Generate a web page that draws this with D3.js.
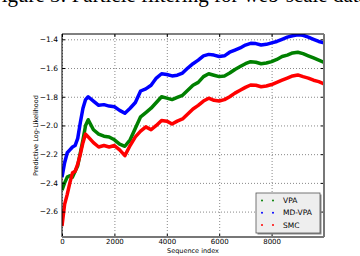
<!DOCTYPE html>
<html>
<head>
<meta charset="utf-8">
<script src="https://cdn.jsdelivr.net/npm/d3@7"></script>
<style>
  body { margin: 0; background: #fff; }
  svg { display: block; }
  .tick text { font-family: "DejaVu Sans", sans-serif; }
</style>
</head>
<body>
<div id="chart"></div>
<script>
// Sequence index positions (shared by all series)
const seqIndex = [0, 100, 200, 300, 400, 500, 600, 700, 800, 900, 1000, 1200, 1400, 1600, 1800,
    2000, 2200, 2400, 2600, 2800, 3000, 3200, 3400, 3600, 3800, 4000, 4200, 4400, 4600, 4800,
    5000, 5200, 5400, 5600, 5800, 6000, 6200, 6400, 6600, 6800, 7000, 7200, 7400, 7600, 7800,
    8000, 8200, 8400, 8600, 8800, 9000, 9200, 9400, 9600, 9800, 10000];

const vpa = [-2.45, -2.40, -2.36, -2.35, -2.36, -2.32, -2.28, -2.19, -2.10, -2.00, -1.96, -2.03, -2.06, -2.075, -2.08,
    -2.10, -2.13, -2.145, -2.10, -2.02, -1.94, -1.91, -1.88, -1.84, -1.80, -1.81, -1.82, -1.805, -1.79, -1.755,
    -1.72, -1.70, -1.66, -1.64, -1.65, -1.66, -1.655, -1.635, -1.61, -1.59, -1.57, -1.556, -1.56, -1.57, -1.565,
    -1.555, -1.54, -1.52, -1.51, -1.495, -1.49, -1.50, -1.515, -1.53, -1.545, -1.56];

const mdVpa = [-2.36, -2.26, -2.19, -2.17, -2.15, -2.14, -2.09, -1.98, -1.88, -1.82, -1.80, -1.83, -1.86, -1.855, -1.865,
    -1.87, -1.895, -1.915, -1.88, -1.84, -1.76, -1.745, -1.72, -1.67, -1.64, -1.645, -1.655, -1.65, -1.635, -1.60,
    -1.57, -1.545, -1.515, -1.505, -1.51, -1.52, -1.515, -1.49, -1.475, -1.46, -1.44, -1.428, -1.43, -1.44, -1.435,
    -1.425, -1.415, -1.40, -1.385, -1.375, -1.368, -1.372, -1.385, -1.40, -1.415, -1.425];

const smc = [-2.70, -2.55, -2.48, -2.40, -2.33, -2.32, -2.27, -2.20, -2.12, -2.06, -2.08, -2.12, -2.15, -2.14, -2.15,
    -2.14, -2.17, -2.21, -2.14, -2.08, -2.04, -2.01, -2.03, -2.00, -1.965, -1.97, -1.99, -1.97, -1.955, -1.92,
    -1.885, -1.86, -1.83, -1.81, -1.825, -1.83, -1.82, -1.80, -1.775, -1.755, -1.735, -1.718, -1.72, -1.73, -1.725,
    -1.715, -1.70, -1.685, -1.67, -1.655, -1.648, -1.66, -1.67, -1.685, -1.695, -1.71];

const seriesNames = ['VPA', 'MD-VPA', 'SMC'];
const seriesColors = ['#008000', '#0000ff', '#ff0000'];
const xTicks = [0, 2000, 4000, 6000, 8000];
const yTicks = [-2.6, -2.4, -2.2, -2.0, -1.8, -1.6, -1.4];

const width = 360, height = 256;
const margin = {top: 34, right: 36, bottom: 19, left: 62};

const svg = d3.select('#chart')
    .append('svg')
    .attr('width', width)
    .attr('height', height);

// cropped caption from the page above the figure
svg.append('text')
    .attr('x', -10)
    .attr('y', 1.5)
    .attr('font-family', '"Liberation Serif", serif')
    .attr('font-size', 21)
    .attr('fill', '#000')
    .text('Figure 3: Particle filtering for web-scale data sets');

const x = d3.scaleLinear()
    .domain([0, 10000])
    .range([margin.left, width - margin.right]);

const y = d3.scaleLinear()
    .domain([-2.777, -1.363])
    .range([height - margin.bottom, margin.top]);

const fmt = d => d3.format('.1f')(d).replace('-', '\u2212');

// grid lines
svg.append('g')
    .attr('transform', `translate(0,${height - margin.bottom})`)
    .call(d3.axisBottom(x).tickValues(xTicks).tickSize(-(height - margin.top - margin.bottom)).tickFormat(''))
    .call(g => g.select('.domain').remove())
    .call(g => g.selectAll('line').attr('stroke', '#888').attr('stroke-dasharray', '1,2'));

svg.append('g')
    .attr('transform', `translate(${margin.left},0)`)
    .call(d3.axisLeft(y).tickValues(yTicks).tickSize(-(width - margin.left - margin.right)).tickFormat(''))
    .call(g => g.select('.domain').remove())
    .call(g => g.selectAll('line').attr('stroke', '#888').attr('stroke-dasharray', '1,2'));

// lines
const line = d3.line()
    .x((d, i) => x(seqIndex[i]))
    .y(d => y(d));

const plotData = [vpa, mdVpa, smc];
svg.append('defs').append('clipPath').attr('id', 'clip')
    .append('rect')
    .attr('x', margin.left).attr('y', margin.top)
    .attr('width', width - margin.left - margin.right)
    .attr('height', height - margin.top - margin.bottom);

svg.append('g')
    .attr('clip-path', 'url(#clip)')
    .selectAll('path')
    .data(plotData)
    .join('path')
    .attr('fill', 'none')
    .attr('stroke', (d, i) => seriesColors[i])
    .attr('stroke-width', 3.5)
    .attr('stroke-linejoin', 'round')
    .attr('d', line);

// axes with labels
svg.append('g')
    .attr('transform', `translate(0,${height - margin.bottom})`)
    .call(d3.axisBottom(x).tickValues(xTicks).tickSize(-3).tickPadding(2).tickFormat(d3.format('d')))
    .call(g => g.select('.domain').remove())
    .call(g => g.selectAll('text').attr('font-size', 7).attr('fill', '#000'));

svg.append('g')
    .attr('transform', `translate(${margin.left},0)`)
    .call(d3.axisLeft(y).tickValues(yTicks).tickSize(-3).tickPadding(4).tickFormat(fmt))
    .call(g => g.select('.domain').remove())
    .call(g => g.selectAll('text').attr('font-size', 7.5).attr('fill', '#000'));

// right / top ticks
svg.append('g')
    .attr('transform', `translate(${width - margin.right},0)`)
    .call(d3.axisRight(y).tickValues(yTicks).tickSize(-3).tickFormat(''))
    .call(g => g.select('.domain').remove());
svg.append('g')
    .attr('transform', `translate(0,${margin.top})`)
    .call(d3.axisTop(x).tickValues(xTicks).tickSize(-3).tickFormat(''))
    .call(g => g.select('.domain').remove());

// frame
const x0 = margin.left, x1 = width - margin.right, y0 = margin.top, y1 = height - margin.bottom;
svg.append('line').attr('x1', x0).attr('x2', x0).attr('y1', y0).attr('y2', y1).attr('stroke', '#000');
svg.append('line').attr('x1', x0).attr('x2', x1).attr('y1', y0).attr('y2', y0).attr('stroke', '#000');
svg.append('line').attr('x1', x1).attr('x2', x1).attr('y1', y0).attr('y2', y1).attr('stroke', '#777').attr('stroke-width', 2);
svg.append('line').attr('x1', x0).attr('x2', x1).attr('y1', y1).attr('y2', y1).attr('stroke', '#777').attr('stroke-width', 2);

// axis titles
svg.append('text')
    .attr('x', (x0 + x1) / 2)
    .attr('y', 253)
    .attr('text-anchor', 'middle')
    .attr('font-family', '"DejaVu Sans", sans-serif')
    .attr('font-size', 6.5)
    .attr('fill', '#000')
    .text('Sequence index');

svg.append('text')
    .attr('transform', `translate(38,${(y0 + y1) / 2}) rotate(-90)`)
    .attr('text-anchor', 'middle')
    .attr('font-family', '"DejaVu Sans", sans-serif')
    .attr('font-size', 6.5)
    .attr('fill', '#000')
    .text('Predictive Log-Likelihood');

// legend
const legend = svg.append('g').attr('transform', 'translate(256,193)');
legend.append('rect')
    .attr('x', 1.5).attr('y', 1.5).attr('width', 64).attr('height', 40)
    .attr('fill', '#888');
legend.append('rect')
    .attr('width', 64).attr('height', 40)
    .attr('fill', '#eeeeee')
    .attr('stroke', '#555')
    .attr('stroke-width', 0.8);

const items = legend.selectAll('g.item')
    .data(seriesNames)
    .join('g')
    .attr('class', 'item')
    .attr('transform', (d, i) => `translate(0,${7.5 + i * 12.3})`);

items.selectAll('circle')
    .data((d, i) => [i, i])
    .join('circle')
    .attr('cx', (d, j) => j === 0 ? 6 : 17)
    .attr('cy', 0)
    .attr('r', 1)
    .attr('fill', d => seriesColors[d]);

items.append('text')
    .attr('x', 27)
    .attr('y', 0)
    .attr('dy', '0.35em')
    .attr('font-family', '"DejaVu Sans", sans-serif')
    .attr('font-size', 7.5)
    .attr('fill', '#000')
    .text(d => d);
</script>
</body>
</html>
